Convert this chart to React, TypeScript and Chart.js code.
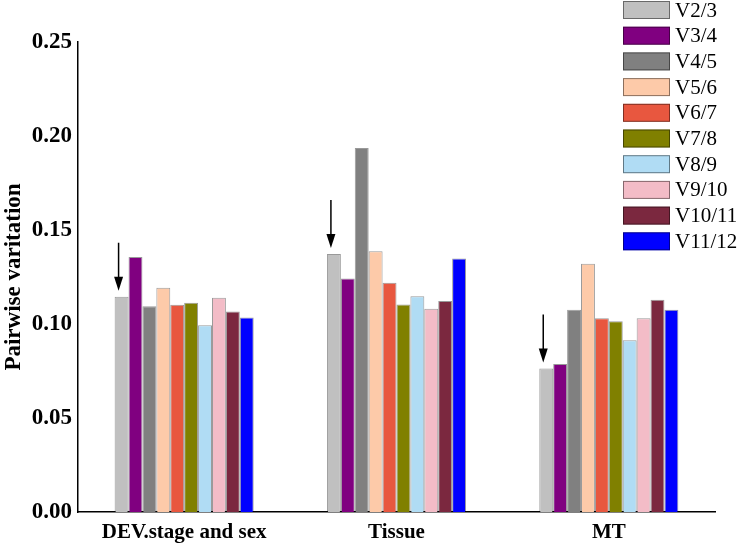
import React, { useEffect, useRef } from "react";
import { Chart, registerables } from "chart.js";

Chart.register(...registerables);

const categories = ["DEV.stage and sex", "Tissue", "MT"];
const seriesLabels = ["V2/3", "V3/4", "V4/5", "V5/6", "V6/7", "V7/8", "V8/9", "V9/10", "V10/11", "V11/12"];
const seriesColors = ["#c0c0c0", "#800080", "#808080", "#fdcaa9", "#e8573f", "#808000", "#b0dcf4", "#f3bcc7", "#7b283f", "#0000ff"];

const v23 = [0.1145, 0.1373, 0.0763];
const v34 = [0.1357, 0.1242, 0.0787];
const v45 = [0.1095, 0.1936, 0.1076];
const v56 = [0.1193, 0.1387, 0.132];
const v67 = [0.1102, 0.1219, 0.1031];
const v78 = [0.1113, 0.1104, 0.1014];
const v89 = [0.0994, 0.1148, 0.0913];
const v910 = [0.114, 0.1081, 0.1031];
const v1011 = [0.1067, 0.1122, 0.1129];
const v1112 = [0.1035, 0.1348, 0.1076];

const seriesValues = [v23, v34, v45, v56, v67, v78, v89, v910, v1011, v1112];
const yTicks = [0, 0.05, 0.1, 0.15, 0.2, 0.25];

const SERIF = "'Liberation Serif', 'Times New Roman', serif";

const legendPlugin = {
  id: "customLegend",
  afterDraw(chart: any) {
    const ctx = chart.ctx;
    ctx.save();
    chart.data.datasets.forEach((ds: any, i: number) => {
      const cy = 10 + i * 25.7;
      ctx.fillStyle = ds.backgroundColor;
      ctx.fillRect(623, cy - 9, 47, 18);
      ctx.strokeStyle = "rgba(0,0,0,0.45)";
      ctx.lineWidth = 1;
      ctx.strokeRect(623.5, cy - 8.5, 46, 17);
      ctx.fillStyle = "#000";
      ctx.font = `21px ${SERIF}`;
      ctx.textBaseline = "middle";
      ctx.textAlign = "left";
      ctx.fillText(ds.label, 675, cy + 1);
    });
    ctx.restore();
  },
};

const arrowPlugin = {
  id: "arrows",
  afterDatasetsDraw(chart: any) {
    const ctx = chart.ctx;
    const meta = chart.getDatasetMeta(0);
    ctx.save();
    ctx.strokeStyle = "#000";
    ctx.fillStyle = "#000";
    ctx.lineWidth = 1.5;
    meta.data.forEach((bar: any) => {
      const x = bar.x - 3;
      const tip = bar.y - 6;
      const top = tip - 48;
      ctx.beginPath();
      ctx.moveTo(x, top);
      ctx.lineTo(x, tip - 10);
      ctx.stroke();
      ctx.beginPath();
      ctx.moveTo(x - 4.5, tip - 14);
      ctx.lineTo(x + 4.5, tip - 14);
      ctx.lineTo(x, tip);
      ctx.closePath();
      ctx.fill();
    });
    ctx.restore();
  },
};

export default function App() {
  const ref = useRef<HTMLCanvasElement | null>(null);
  useEffect(() => {
    if (!ref.current) return;
    const chart = new Chart(ref.current, {
      type: "bar",
      data: {
        labels: categories,
        datasets: seriesLabels.map((label, i) => ({
          label,
          data: seriesValues[i],
          backgroundColor: seriesColors[i],
          borderColor: "rgba(0,0,0,0.4)",
          borderWidth: 1,
          barPercentage: 1,
          categoryPercentage: 0.655,
        })),
      },
      options: {
        animation: false,
        responsive: false,
        maintainAspectRatio: false,
        layout: { padding: { top: 42, right: 24, bottom: 0, left: 0 } },
        plugins: {
          legend: { display: false },
          tooltip: { enabled: false },
        },
        scales: {
          x: {
            grid: { display: false, drawTicks: false },
            border: { display: true, color: "#000", width: 1.5 },
            ticks: {
              color: "#000",
              padding: 8,
              font: { family: SERIF, size: 21, weight: "bold" },
            },
            afterFit(scale: any) {
              scale.height = 34;
            },
          },
          y: {
            min: 0,
            max: 0.25,
            grid: { display: false, drawTicks: false },
            border: { display: true, color: "#000", width: 1.5 },
            afterBuildTicks(scale: any) {
              scale.ticks = yTicks.map((v) => ({ value: v }));
            },
            ticks: {
              color: "#000",
              padding: 6,
              font: { family: SERIF, size: 23, weight: "bold" },
              callback: (v: any) => Number(v).toFixed(2),
            },
            title: {
              display: true,
              text: "Pairwise varitation",
              color: "#000",
              padding: { top: 0, bottom: 0 },
              font: { family: SERIF, size: 23, weight: "bold" },
            },
            afterFit(scale: any) {
              scale.width = 78;
            },
          },
        },
      },
      plugins: [arrowPlugin, legendPlugin],
    });
    return () => chart.destroy();
  }, []);
  return (
    <div style={{ position: "absolute", left: 0, top: 0, width: 739, height: 546, background: "#fff" }}>
      <canvas ref={ref} width={739} height={546} style={{ display: "block" }} />
    </div>
  );
}
